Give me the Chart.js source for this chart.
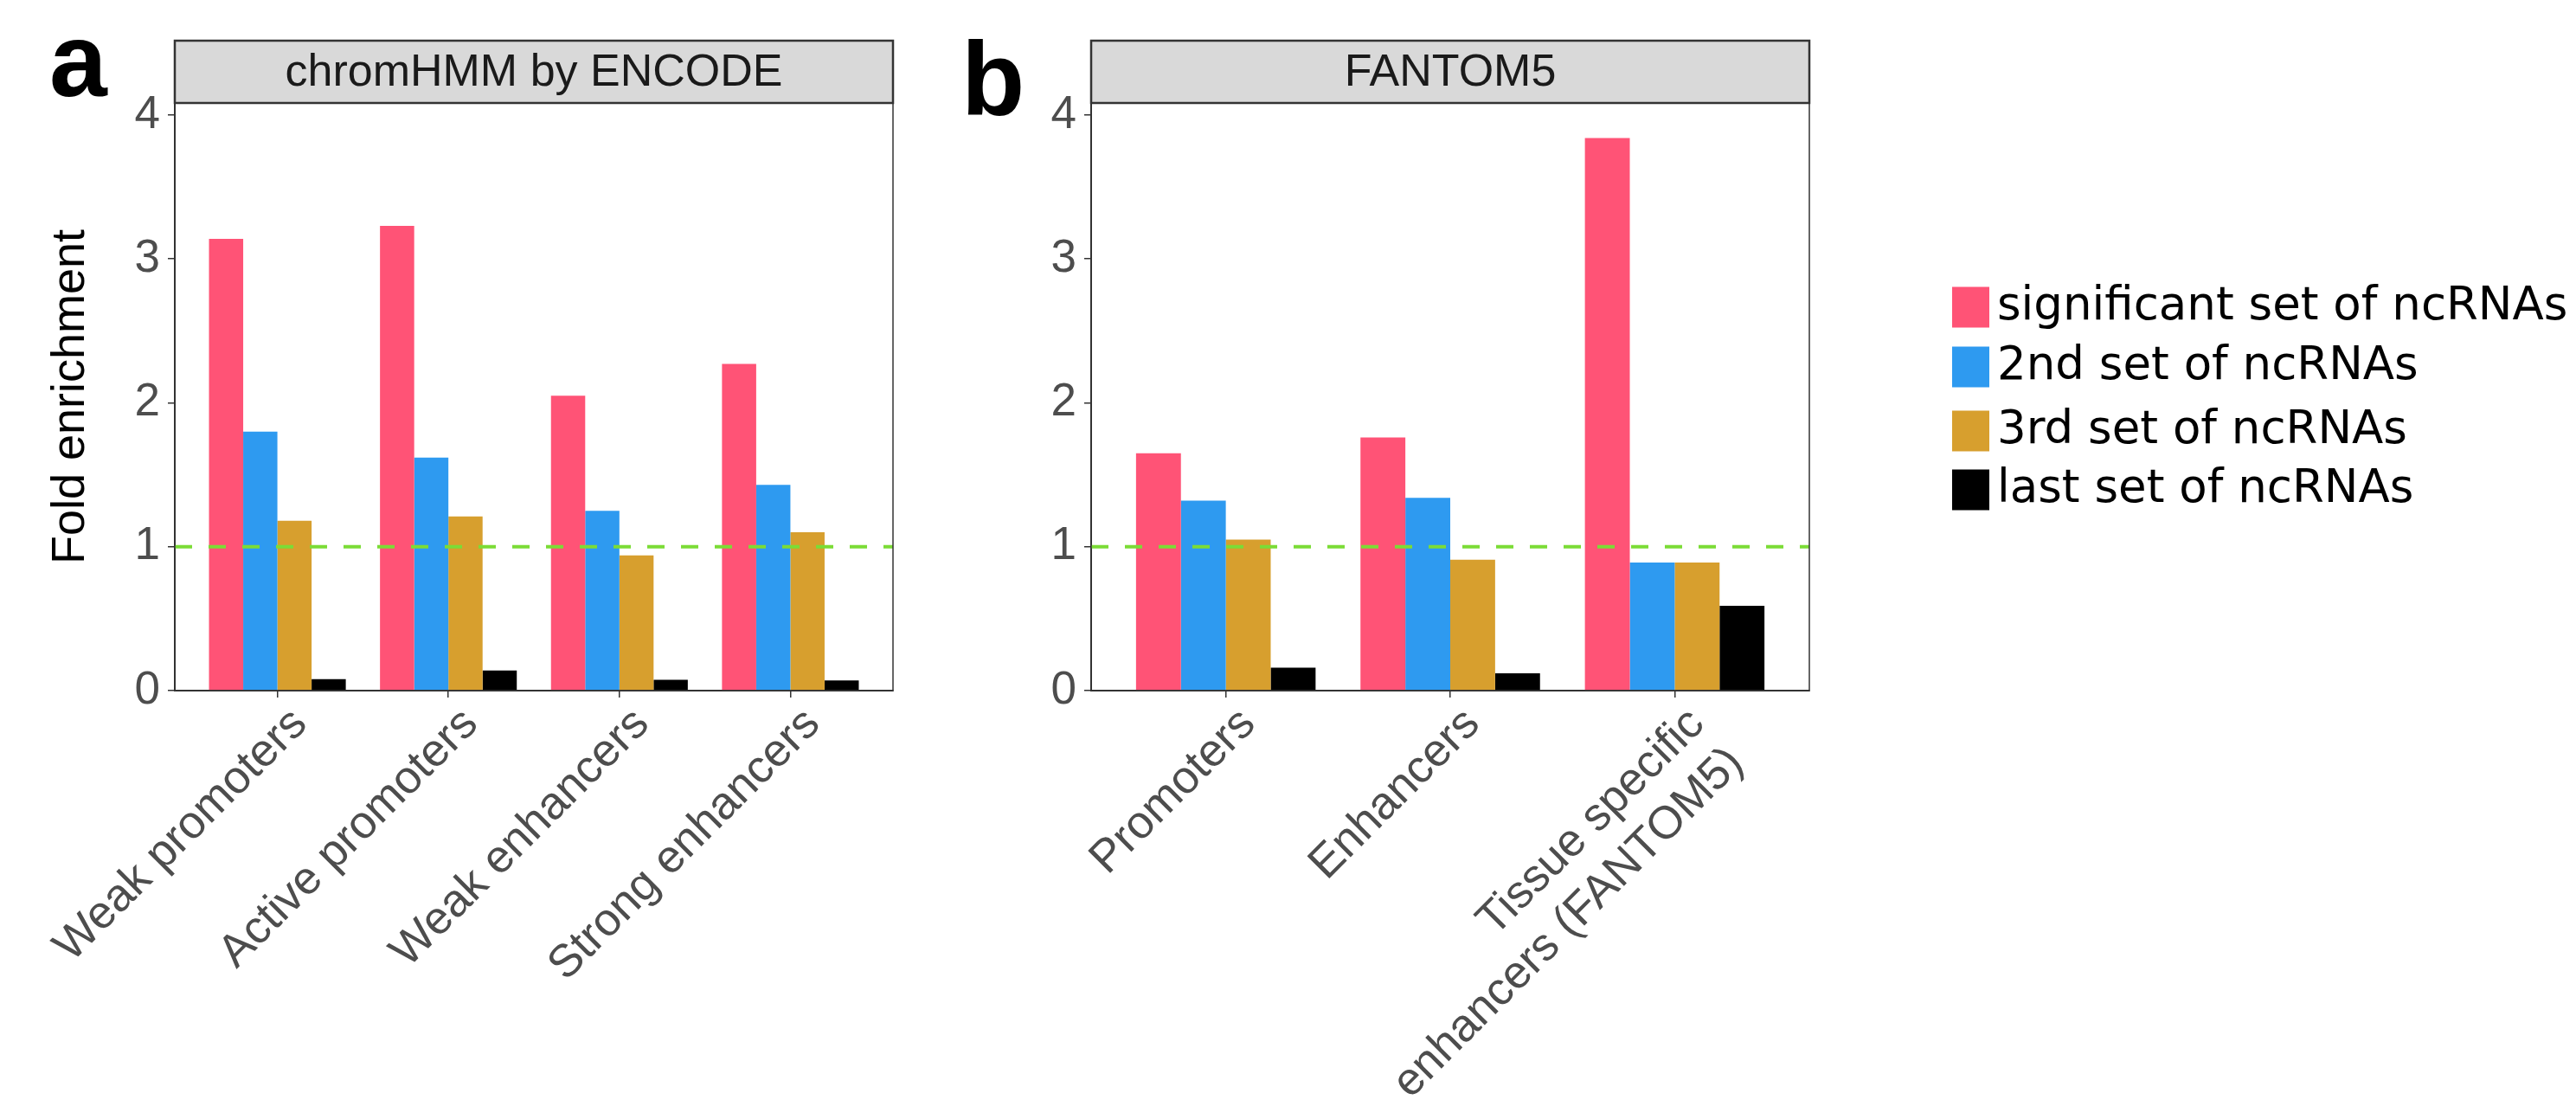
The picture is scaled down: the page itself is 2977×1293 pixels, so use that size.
<!DOCTYPE html>
<html>
<head>
<meta charset="utf-8">
<script src="https://cdn.jsdelivr.net/npm/chart.js@4.4.1/dist/chart.umd.min.js"></script>
<style>
  html, body { margin: 0; padding: 0; background: #fff; overflow: hidden; }
  canvas { position: absolute; top: 0; }
  #chartA { left: 0; }
  #chartB { left: 1100px; }
</style>
</head>
<body>
<canvas id="chartA" width="1100" height="1293"></canvas>
<canvas id="chartB" width="1877" height="1293"></canvas>
<script>
/* series shared by both panels */
var seriesNames = ["significant set of ncRNAs", "2nd set of ncRNAs", "3rd set of ncRNAs", "last set of ncRNAs"];
var seriesColors = ["#FF5376", "#2E9AF0", "#D79F2E", "#000000"];
var yTicks = [0, 1, 2, 3, 4];
var refLine = 1;

/* panel a: chromHMM by ENCODE */
var catsA = ["Weak promoters", "Active promoters", "Weak enhancers", "Strong enhancers"];
var sigA = [3.14, 3.23, 2.05, 2.27];
var secondA = [1.80, 1.62, 1.25, 1.43];
var thirdA = [1.18, 1.21, 0.94, 1.10];
var lastA = [0.08, 0.14, 0.075, 0.07];

/* panel b: FANTOM5 */
var catsB = ["Promoters", "Enhancers", ["Tissue specific", "enhancers (FANTOM5)"]];
var sigB = [1.65, 1.76, 3.84];
var secondB = [1.32, 1.34, 0.89];
var thirdB = [1.05, 0.91, 0.89];
var lastB = [0.16, 0.12, 0.59];

Chart.defaults.font.family = "'Liberation Sans', Arial, sans-serif";

var decor = {
  id: "panelDecor",
  afterDatasetsDraw: function (chart) {
    var c = chart.ctx, a = chart.chartArea;
    var yy = chart.scales.y.getPixelForValue(refLine);
    c.save();
    c.strokeStyle = "#7BDC36";
    c.lineWidth = 4;
    c.setLineDash([20, 19]);
    c.beginPath();
    c.moveTo(a.left, yy);
    c.lineTo(a.right, yy);
    c.stroke();
    c.restore();
  },
  afterDraw: function (chart, args, o) {
    var c = chart.ctx, a = chart.chartArea;
    c.save();
    // panel border
    c.strokeStyle = "#333333";
    c.lineWidth = 1.5;
    c.strokeRect(a.left, a.top, a.right - a.left, a.bottom - a.top);
    // strip
    c.fillStyle = "#D9D9D9";
    c.fillRect(a.left, 47, a.right - a.left, a.top - 47);
    c.lineWidth = 2.5;
    c.strokeRect(a.left, 47, a.right - a.left, a.top - 47);
    c.fillStyle = "#1A1A1A";
    c.font = "52px 'Liberation Sans', Arial";
    c.textAlign = "center";
    c.textBaseline = "alphabetic";
    c.fillText(o.strip, (a.left + a.right) / 2, 99);
    // panel letter
    c.fillStyle = "#000";
    c.font = "bold 120px 'Liberation Sans', Arial";
    c.textAlign = "left";
    c.fillText(o.letter, o.letterX, o.letterY);
    // legend
    if (o.legend) {
      var rows = [355, 424, 498, 566];
      c.font = "53px 'DejaVu Sans'";
      chart.data.datasets.forEach(function (ds, i) {
        c.fillStyle = ds.backgroundColor;
        c.fillRect(o.legendX, rows[i] - 23.5, 43, 47);
        c.fillStyle = "#000";
        c.fillText(ds.label, o.legendX + 52, rows[i] + 14);
      });
    }
    c.restore();
  }
};

function panelChart(id, cats, series, o) {
  var ctx = document.getElementById(id);
  return new Chart(ctx, {
    type: "bar",
    data: {
      datasets: series.map(function (vals, i) {
        return {
          label: seriesNames[i],
          data: vals.map(function (v, j) { return { x: j + 1, y: v }; }),
          backgroundColor: seriesColors[i],
          borderWidth: 0,
          categoryPercentage: 0.8,
          barPercentage: 1.0,
        };
      }),
    },
    options: {
      responsive: false,
      animation: false,
      layout: { padding: { top: 119, right: o.padRight, bottom: 0, left: 0 } },
      plugins: {
        legend: { display: false },
        tooltip: { enabled: false },
        panelDecor: o.decor,
      },
      scales: {
        x: {
          type: "linear",
          min: 0.4,
          max: cats.length + 0.6,
          offset: false,
          afterBuildTicks: function (s) {
            s.ticks = cats.map(function (c, i) { return { value: i + 1 }; });
          },
          afterFit: function (s) { s.height = 495; },
          grid: { offset: false, drawOnChartArea: false, drawTicks: true, tickLength: 8, color: "#333333", lineWidth: 1.5 },
          border: { color: "#333333", width: 2 },
          ticks: {
            autoSkip: false,
            minRotation: 45,
            maxRotation: 45,
            padding: 0,
            labelOffset: 26,
            color: "#4D4D4D",
            font: { size: 53 },
            callback: function (v) { return cats[Math.round(v) - 1]; },
          },
        },
        y: {
          min: 0,
          max: 4.084,
          afterBuildTicks: function (s) {
            s.ticks = yTicks.map(function (t) { return { value: t }; });
          },
          afterFit: function (s) { s.width = o.yWidth; },
          grid: { drawOnChartArea: false, drawTicks: true, tickLength: 8, color: "#333333", lineWidth: 1.5 },
          border: { color: "#333333", width: 2 },
          ticks: { padding: 9, color: "#4D4D4D", font: { size: 53 } },
          title: {
            display: !!o.yTitle,
            text: o.yTitle || "",
            color: "#000",
            font: { size: 54 },
            padding: { top: 50, bottom: 0 },
          },
        },
      },
    },
    plugins: [decor],
  });
}

panelChart("chartA", catsA, [sigA, secondA, thirdA, lastA], {
  padRight: 68,
  yWidth: 202,
  yTitle: "Fold enrichment",
  decor: { strip: "chromHMM by ENCODE", letter: "a", letterX: 57, letterY: 111 },
});

panelChart("chartB", catsB, [sigB, secondB, thirdB, lastB], {
  padRight: 886,
  yWidth: 161,
  decor: { strip: "FANTOM5", letter: "b", letterX: 11, letterY: 133, legend: true, legendX: 1156 },
});
</script>
</body>
</html>
